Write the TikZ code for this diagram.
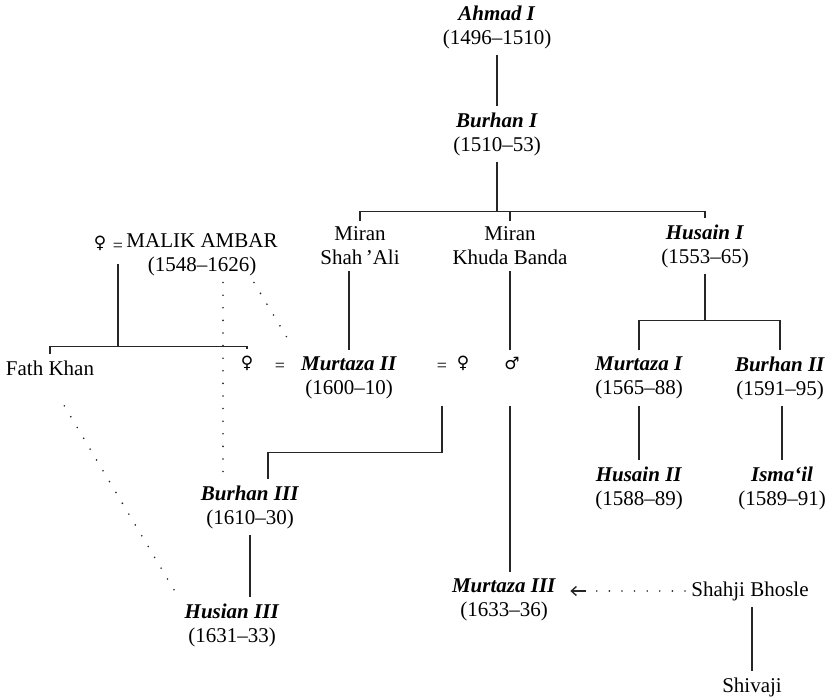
\documentclass[tikz,border=0pt]{standalone}
\usepackage{fontspec}
\setmainfont{Liberation Serif}
\newfontfamily\symfont{DejaVu Sans}
\usetikzlibrary{arrows.meta}

\newcommand{\king}[1]{\textbf{\textit{#1}}}

\begin{document}
\begin{tikzpicture}[x=0.5pt, y=-0.5pt,
    person/.style={align=center, inner sep=3pt, font=\fontsize{10.5}{12}\selectfont},
    sign/.style={inner sep=3pt, font=\symfont\fontsize{8.5}{10}\selectfont},
    eqsign/.style={inner sep=3pt, font=\fontsize{9}{10}\selectfont},
    link/.style={line width=0.7pt, black!85},
    dotline/.style={line width=0.9pt, line cap=round, dash pattern=on 0pt off 6.3pt, black!85}
]
\useasboundingbox (0,0) rectangle (840,700);

    \node[person] (ahmad) at (497,27) {\king{Ahmad I}\\(1496--1510)};
    \node[person] (burhan1) at (497,134) {\king{Burhan I}\\(1510--53)};
    \node[person] (shahali) at (360,246) {Miran\\Shah\,’Ali};
    \node[person] (khuda) at (510,246) {Miran\\Khuda Banda};
    \node[person] (husain1) at (705,246) {\king{Husain I}\\(1553--65)};

    % Malik Ambar's line
    \node[sign] (wife1) at (100,243) {♀};
    \node[eqsign] (eq1) at (118,247) {=};
    \node[person] (malik) at (202,255) {MALIK AMBAR\\(1548--1626)};
    \node[person] (fathkhan) at (50,368) {Fath Khan};
    \node[sign] (wife2) at (247,363) {♀};
    \node[eqsign] (eq2) at (280,367) {=};

    \node[person] (murtaza2) at (349,378) {\king{Murtaza II}\\(1600--10)};
    \node[eqsign] (eq3) at (442,367) {=};
    \node[sign] (wife3) at (463,363) {♀};
    \node[sign] (son) at (512,363) {♂};

    \node[person] (murtaza1) at (639,378) {\king{Murtaza I}\\(1565--88)};
    \node[person] (burhan2) at (780,378) {\king{Burhan II}\\(1591--95)};
    \node[person] (husain2) at (639,488) {\king{Husain II}\\(1588--89)};
    \node[person] (ismail) at (782,488) {\king{Isma‘il}\\(1589--91)};

    \node[person] (burhan3) at (250,507) {\king{Burhan III}\\(1610--30)};
    \node[person] (husian3) at (232,625) {\king{Husian III}\\(1631--33)};
    \node[person] (murtaza3) at (504,600) {\king{Murtaza III}\\(1633--36)};
    \node[person] (shahji) at (750,591) {Shahji Bhosle};
    \node[person] (shivaji) at (752,687) {Shivaji};

    \draw[link] (ahmad) -- (burhan1);
    \draw[link] (shahali.north) -- ++(0,-9) coordinate (sonbar) -| (husain1.north);
    \draw[link] (khuda.north) -- (khuda.north |- sonbar);
    \draw[link] (burhan1.south) -- (burhan1.south |- sonbar);

    \draw[link] (murtaza2.north |- shahali.south) -- (murtaza2.north);
    \draw[link] (khuda.south) -- (khuda.south |- son.north);
    \draw[link] (murtaza1.north) -- ++(0,-30) coordinate (husbar) -| (burhan2.north);
    \draw[link] (husain1.south) -- (husain1.south |- husbar);
    \draw[link] (murtaza1) -- (husain2);
    \draw[link] (ismail.north |- burhan2.south) -- (ismail.north);

    \draw[link] (fathkhan.north) -- ++(0,-8) coordinate (ambarbar) -| (wife2.north);
    \draw[link, shorten <=3pt] (eq1.south) -- (eq1.south |- ambarbar);

    \draw[link] (eq3 |- murtaza2.south) -- ++(0,47) -| ([xshift=9pt]burhan3.north);
    \draw[link] (burhan3.south) -- (burhan3.south |- husian3.north);
    \draw[link] (khuda.south |- murtaza2.south) -- (khuda.south |- murtaza3.north);
    \draw[link] (shivaji.north |- shahji.south) -- (shivaji.north);

    % dotted links
    \draw[dotline] ([xshift=10.5pt]malik.south) -- ([xshift=10.5pt]malik.south |- burhan3.north);
    \draw[dotline, shorten >=3pt] ([xshift=26pt]malik.south) -- (murtaza2.north west);
    \draw[dotline, shorten <=14pt] (fathkhan.south) -- (husian3.north west);
    \draw[dotline] (shahji.west) -- ([xshift=14pt]murtaza3.east |- shahji.west);
    \draw[link, -{Straight Barb[length=2.5pt, width=4.5pt]}] ([xshift=12pt]murtaza3.east |- shahji.west) -- ([xshift=4pt]murtaza3.east |- shahji.west);

\end{tikzpicture}
\end{document}
